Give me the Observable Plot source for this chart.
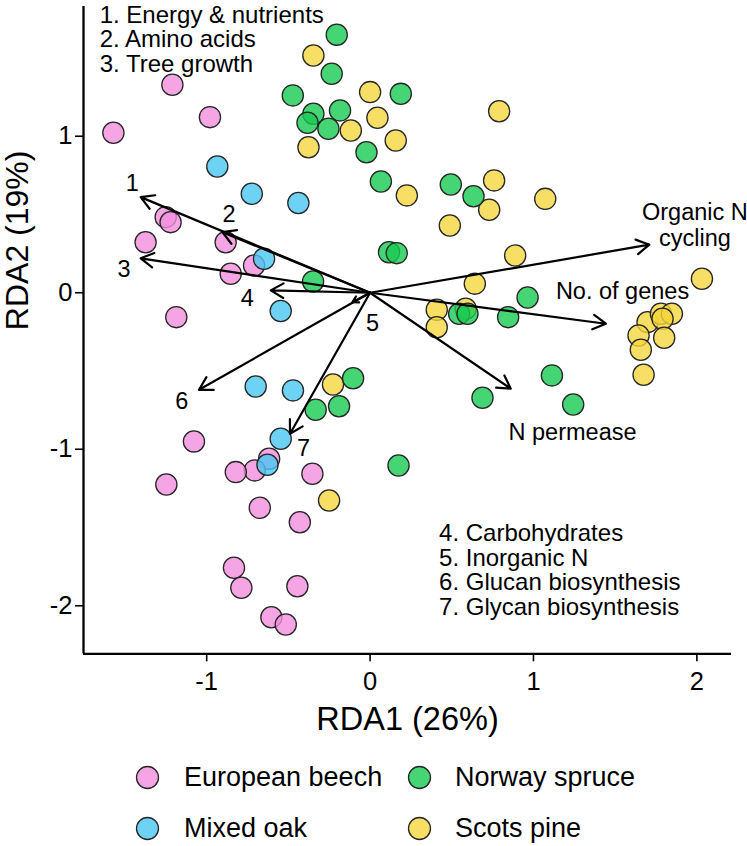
<!DOCTYPE html>
<html><head><meta charset="utf-8">
<script src="https://cdn.jsdelivr.net/npm/d3@7"></script>
<script src="https://cdn.jsdelivr.net/npm/@observablehq/plot@0.6"></script>
<style>
body{margin:0;background:#fff;font-family:"Liberation Sans",Arial,Helvetica,sans-serif;}
#wrap{width:747px;}
#legend{position:relative;width:747px;height:94px;}
.item{position:absolute;display:flex;align-items:center;height:30px;font-size:27px;color:#000;white-space:nowrap;}
.item svg{display:block;}
</style></head><body><div id="wrap"></div><script>
// ---- data ----
const groups = ["European beech", "Mixed oak", "Norway spruce", "Scots pine"];
const groupColors = ["#F48FDD", "#4AC7F3", "#17CB51", "#F5D63D"];

const beechX = [-1.571,-1.210,-0.980,-1.251,-1.221,-1.374,-0.884,-0.710,-0.853,-1.186,-1.078,-1.247,-0.618,-0.706,-0.822,-0.353,-0.675,-0.430,-0.833,-0.788,-0.445,-0.604,-0.516];
const beechY = [1.022,1.329,1.122,0.483,0.451,0.323,0.323,0.174,0.121,-0.156,-0.950,-1.225,-1.061,-1.135,-1.146,-1.157,-1.374,-1.466,-1.757,-1.885,-1.875,-2.073,-2.120];

const oakX = [-0.935,-0.724,-0.439,-0.649,-0.547,-0.700,-0.472,-0.547,-0.628];
const oakY = [0.807,0.633,0.573,0.217,-0.117,-0.599,-0.624,-0.933,-1.099];

const spruceX = [-0.204,-0.235,-0.473,-0.347,-0.383,-0.184,-0.255,-0.022,0.066,0.188,-0.349,0.494,0.633,0.116,0.163,0.964,0.545,0.596,0.845,1.113,0.688,1.243,0.174,-0.104,-0.333,-0.190];
const spruceY = [1.649,1.399,1.261,1.144,1.086,1.165,1.048,0.898,0.711,1.271,0.072,0.692,0.617,0.259,0.253,-0.030,-0.134,-0.134,-0.156,-0.528,-0.671,-0.714,-1.104,-0.546,-0.748,-0.725];

const pineX = [-0.347,0.000,0.045,-0.118,-0.377,0.790,0.157,0.225,0.759,0.729,1.072,0.488,0.888,0.641,0.408,0.408,0.585,2.031,1.698,1.780,1.847,1.790,1.643,1.800,1.657,1.674,-0.227,-0.251];
const pineY = [1.516,1.282,1.118,1.037,0.930,1.160,0.973,0.622,0.718,0.530,0.600,0.430,0.238,0.058,-0.109,-0.220,-0.102,0.089,-0.188,-0.134,-0.134,-0.166,-0.273,-0.288,-0.364,-0.524,-0.586,-1.327];

const vectorNames = ["1","2","3","4","5","6","7","Organic N\ncycling","No. of genes","N permease"];
const vectorX = [-1.404,-0.904,-1.404,-0.608,-0.108,-1.047,-0.490,1.709,1.443,0.861];
const vectorY = [0.611,0.387,0.220,0.015,-0.060,-0.620,-0.901,0.307,-0.198,-0.613];
const vectorLabelX = [-1.455,-0.864,-1.506,-0.751,0.015,-1.153,-0.408,1.988,1.545,1.239];
const vectorLabelY = [0.706,0.505,0.157,-0.028,-0.188,-0.688,-0.987,0.436,0.015,-0.886];

const noteTopLeft = ["1. Energy & nutrients", "2. Amino acids", "3. Tree growth"];
const noteTopLeftAt = [-1.655, 1.836];
const noteBottomRight = ["4. Carbohydrates", "5. Inorganic N", "6. Glucan biosynthesis", "7. Glycan biosynthesis"];
const noteBottomRightAt = [0.422, -1.477];

const xTicks = [-1, 0, 1, 2];
const yTicks = [-2, -1, 0, 1];
const xDomain = [-1.754, 2.212];
const yDomain = [-2.307, 1.829];
const xTitle = "RDA1 (26%)";
const yTitle = "RDA2 (19%)";

// ---- build tables ----
const toRows = (xs, ys, g) => xs.map((x, i) => ({x, y: ys[i], group: g}));
const points = [
  ...toRows(beechX, beechY, groups[0]),
  ...toRows(oakX, oakY, groups[1]),
  ...toRows(pineX, pineY, groups[3]),
  ...toRows(spruceX, spruceY, groups[2])
];
const vectors = vectorNames.map((name, i) => ({name, x: vectorX[i], y: vectorY[i], lx: vectorLabelX[i], ly: vectorLabelY[i]}));

const FONT = "Liberation Sans, Arial, Helvetica, sans-serif";
const fmt = d => String(d);

const chart = Plot.plot({
  width: 747,
  height: 752,
  marginLeft: 83,
  marginRight: 16,
  marginTop: 6,
  marginBottom: 98.7,
  style: {fontFamily: FONT, background: "white", color: "black", overflow: "visible"},
  x: {domain: xDomain},
  y: {domain: yDomain},
  color: {domain: groups, range: groupColors},
  marks: [
    Plot.axisX(xTicks, {tickSize: 8, tickPadding: 10, fontSize: 25.5, strokeWidth: 1.6, tickFormat: fmt, label: null}),
    Plot.axisY(yTicks, {tickSize: 8, tickPadding: 3, fontSize: 25.5, strokeWidth: 1.6, tickFormat: fmt, label: null}),
    Plot.ruleX([xDomain[0]], {strokeWidth: 2.3}),
    Plot.ruleY([yDomain[0]], {strokeWidth: 2.3}),
    Plot.dot(points, {x: "x", y: "y", r: 10.6, fill: "group", fillOpacity: 0.8, stroke: "#262626", strokeWidth: 1.3}),
    Plot.arrow(vectors, {x1: () => 0, y1: () => 0, x2: "x", y2: "y", stroke: "black", strokeWidth: 2.2, headLength: 10, headAngle: 60}),
    Plot.text(vectors, {x: "lx", y: "ly", text: "name", fontSize: 23.5, lineHeight: 1.12, textAnchor: "middle", lineAnchor: "middle"}),
    Plot.text([noteTopLeft.join("\n")], {x: () => noteTopLeftAt[0], y: () => noteTopLeftAt[1], text: d => d, fontSize: 24, lineHeight: 1.02, textAnchor: "start", lineAnchor: "top"}),
    Plot.text([noteBottomRight.join("\n")], {x: () => noteBottomRightAt[0], y: () => noteBottomRightAt[1], text: d => d, fontSize: 24, lineHeight: 1.02, textAnchor: "start", lineAnchor: "top"}),
    Plot.text([xTitle], {frameAnchor: "bottom", text: d => d, dy: 53.4, fontSize: 32.5, lineAnchor: "top"}),
    Plot.text([yTitle], {frameAnchor: "left", text: d => d, dx: -65.3, rotate: -90, fontSize: 32, lineAnchor: "middle"})
  ]
});

const wrap = document.getElementById("wrap");
wrap.appendChild(chart);

// ---- legend ----
const legend = document.createElement("div");
legend.id = "legend";
const legendPos = [[134.8, 10], [134.8, 61.7], [406.5, 10], [406.5, 61.7]];
const textLeft = [184, 184, 455, 455];
groups.forEach((g, i) => {
  const sw = document.createElement("div");
  sw.className = "item";
  sw.style.left = legendPos[i][0] + "px";
  sw.style.top = legendPos[i][1] + "px";
  const gap = textLeft[i] - legendPos[i][0] - 25;
  sw.innerHTML = `<svg width="25" height="25"><circle cx="12.5" cy="12.5" r="11" fill="${groupColors[i]}" fill-opacity="0.8" stroke="#262626" stroke-width="1.3"/></svg><span style="margin-left:${gap}px">${g}</span>`;
  legend.appendChild(sw);
});
wrap.appendChild(legend);
</script></body></html>
